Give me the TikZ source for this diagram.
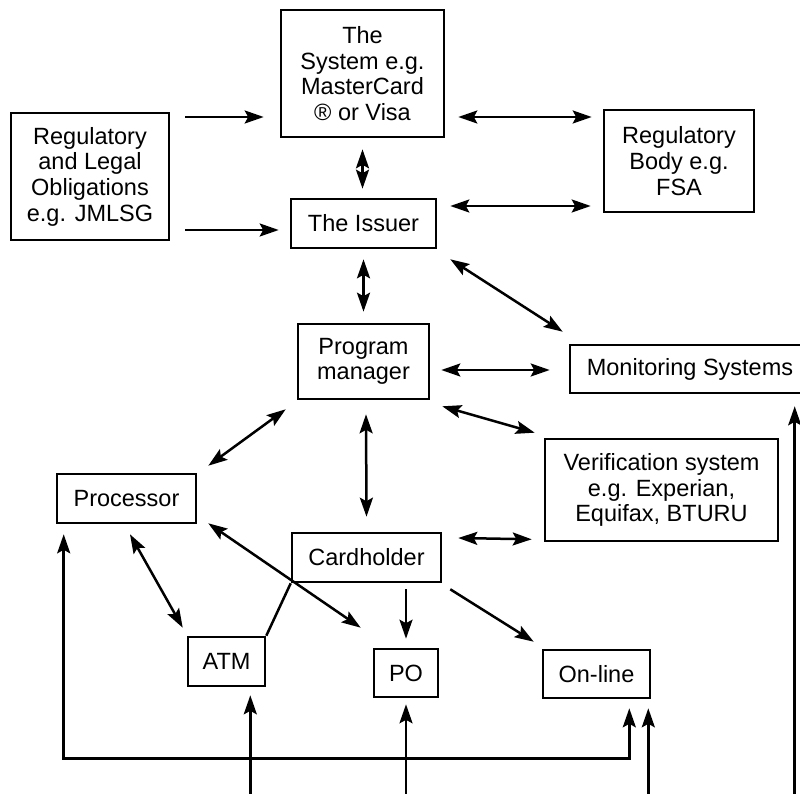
\documentclass[tikz,border=0pt]{standalone}
\usepackage{fontspec}
\setmainfont{Liberation Sans}
\usetikzlibrary{calc,arrows.meta}
\tikzset{
  box/.style={draw, line width=2.6pt, align=center, inner sep=0pt,
    font=\fontsize{23.5}{25.7}\selectfont},
  conn/.style={line width=2.5pt},
  tip/.tip={Stealth[length=19pt,width=13pt,inset=3.5pt]},
  arr/.style={conn, -tip},
  dbl/.style={conn, tip-tip},
}
\begin{document}
\begin{tikzpicture}[x=1pt,y=-1pt]
\clip (0,0) rectangle (800,794);
\coordinate (bot) at (0,796);
% nodes
\node[box, minimum width=163pt, minimum height=127pt] (sys) at (362.5,73.5) {The\\System e.g.\\MasterCard\\® or Visa};
\node[box, minimum width=158pt, minimum height=127pt] (reg) at (90,176.5) {Regulatory\\and Legal\\Obligations\\e.g. JMLSG};
\node[box, minimum width=150pt, minimum height=102pt] (rb) at (679,161) {Regulatory\\Body e.g.\\FSA};
\node[box, minimum width=145pt, minimum height=49pt] (iss) at (363.5,223.5) {The Issuer};
\node[box, minimum width=131pt, minimum height=75pt] (pm) at (363.5,361.5) {Program\\manager};
\node[box, minimum width=240pt, minimum height=48pt] (mon) at (690,369) {Monitoring Systems};
\node[box, minimum width=233pt, minimum height=102pt] (ver) at (661.5,490) {Verification system\\e.g. Experian,\\Equifax, BTURU};
\node[box, minimum width=139pt, minimum height=49pt] (proc) at (126.5,498.5) {Processor};
\node[box, minimum width=149pt, minimum height=49pt] (card) at (366.5,557.5) {Cardholder};
\node[box, minimum width=77pt, minimum height=49pt] (atm) at (226.5,661.5) {ATM};
\node[box, minimum width=64pt, minimum height=48pt] (po) at (406,673) {PO};
\node[box, minimum width=107pt, minimum height=48pt] (onl) at (596.5,674) {On-line};
% connectors
\draw[arr] ($(reg.east)+(15,-59.5)$) -- ($(sys.west)+(-16,43.5)$);
\draw[arr] ($(reg.east)+(15,53.5)$) -- ($(iss.west)+(-11,6.5)$);
\draw[dbl] ($(sys.east)+(13,43.5)$) -- ($(rb.west)+(-11,-44)$);
\draw[dbl] ($(iss.east)+(13,-17.5)$) -- ($(rb.west)+(-12,45)$);
\draw[dbl] ($(sys.south)+(0,11)$) -- ($(sys.south |- iss.north)+(0,-9)$);
\draw[dbl] ($(iss.south)+(0,10)$) -- ($(pm.north)+(0,-11)$);
\draw[dbl] ($(iss.south east)+(13,10)$) -- ($(mon.north west)+(-6,-12)$);
\draw[dbl] ($(pm.east)+(11,8.5)$) -- ($(mon.west)+(-19,1)$);
\draw[dbl] ($(pm.south east)+(12,6)$) -- ($(ver.north west)+(-9,-5)$);
\draw[dbl] ($(pm.south west)+(-11,9)$) -- ($(proc.north east)+(11,-7)$);
\draw[dbl] ($(pm.south)+(2.5,14)$) -- ($(card.north)+(0,-15)$);
\draw[dbl] ($(card.east)+(16,-19.5)$) -- ($(ver.south west)+(-12,-3)$);
\draw[dbl] ($(proc.south east)+(11,-1)$) -- ($(po.north west)+(-12,-20)$);
\draw[dbl] ($(proc.south)+(3.5,10)$) -- ($(atm.north west)+(-4,-8)$);
\draw[conn] (card.south west) -- (atm.north east);
\draw[arr] ($(po.north |- card.south)+(0,6)$) -- ($(po.north)+(0,-9)$);
\draw[arr] ($(card.south east)+(8,6)$) -- ($(onl.north west)+(-8,-7)$);
\draw[dbl] ($(proc.south west)+(8,10)$) -- ++(0,224) -| ($(onl.south east)+(-22,9)$);
\draw[arr] ($(atm.south east |- bot)+(-16,0)$) -- ($(atm.south east)+(-16,8)$);
\draw[arr] (po.south |- bot) -- ($(po.south)+(0,6)$);
\draw[arr] ($(onl.south east |- bot)+(-3,0)$) -- ($(onl.south east)+(-3,9)$);
\draw[arr] ($(mon.south west |- bot)+(226,0)$) -- ($(mon.south west)+(226,12)$);
\end{tikzpicture}
\end{document}
